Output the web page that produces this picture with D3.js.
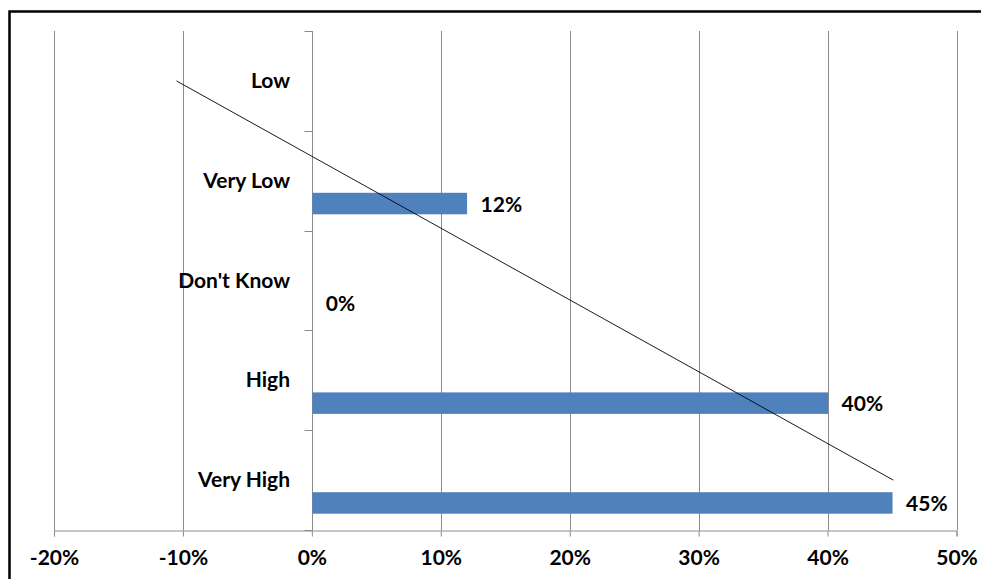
<!DOCTYPE html>
<html>
<head>
<meta charset="utf-8">
<script src="https://cdn.jsdelivr.net/npm/d3@7"></script>
<style>
  html, body { margin: 0; padding: 0; background: #fff; }
  svg { display: block; }
  text { font-family: Lato, "Open Sans", sans-serif; font-weight: bold; fill: #000; }
</style>
</head>
<body>
<svg id="chart" width="981" height="579"></svg>
<script>
// Data (top to bottom as displayed)
const categories = ["Low", "Very Low", "Don't Know", "High", "Very High"];
const values = [null, 0.12, 0.0, 0.40, 0.45];
const xTicks = [-0.2, -0.1, 0, 0.1, 0.2, 0.3, 0.4, 0.5];

const W = 981, H = 579;
const FS = 21;
const svg = d3.select("#chart");
const pct = d => Math.round(d * 100) + "%";

// frame
svg.append("path")
  .attr("d", `M9.5,${H + 5} L9.5,11.5 L${W + 5},11.5`)
  .attr("fill", "none").attr("stroke", "#000").attr("stroke-width", 2.5);

const x = d3.scaleLinear().domain([-0.2, 0.5]).range([54, 956.5]);
const y = d3.scaleBand().domain(categories).range([31, 530]).paddingInner(0).paddingOuter(0);
const gridColor = "#8c8c8c";

// vertical gridlines
svg.append("g").selectAll("line").data(xTicks).join("line")
  .attr("x1", d => Math.round(x(d)) + 0.5).attr("x2", d => Math.round(x(d)) + 0.5)
  .attr("y1", 31).attr("y2", 530)
  .attr("stroke", gridColor).attr("stroke-width", 1);

// bottom axis
const xAxis = d3.axisBottom(x).tickValues(xTicks).tickSize(6).tickPadding(14)
  .tickFormat(pct);
const gx = svg.append("g").attr("transform", "translate(0,530.5)").call(xAxis);
gx.select(".domain").attr("stroke", gridColor);
gx.selectAll(".tick line").attr("stroke", gridColor);
gx.selectAll(".tick text").attr("font-size", FS).attr("font-family", "Lato, sans-serif")
  .attr("font-weight", "bold").attr("fill", "#000");

// category axis at x=0 with ticks at band boundaries
const x0 = Math.round(x(0)) + 0.5;
svg.append("line").attr("x1", x0).attr("x2", x0).attr("y1", 31).attr("y2", 530)
  .attr("stroke", gridColor);
const boundaries = categories.map(c => y(c)).concat([y.range()[1]]);
svg.append("g").selectAll("line").data(boundaries).join("line")
  .attr("x1", x0 - 8).attr("x2", x0)
  .attr("y1", d => Math.round(d) + 0.5).attr("y2", d => Math.round(d) + 0.5)
  .attr("stroke", gridColor);

// category labels
svg.append("g").selectAll("text").data(categories).join("text")
  .attr("x", 290).attr("y", d => y(d) + 57)
  .attr("text-anchor", "end").attr("font-size", FS)
  .text(d => d);

// bars
const data = categories.map((c, i) => ({ c, v: values[i] }));
const barOff = 62, barH = 21.5;
svg.append("g").selectAll("rect").data(data.filter(d => d.v !== null)).join("rect")
  .attr("x", x(0) + 0.5).attr("y", d => y(d.c) + barOff)
  .attr("width", d => Math.max(0, x(d.v) - x(0)))
  .attr("height", barH)
  .attr("fill", "#4f81bd");

// data labels
svg.append("g").selectAll("text").data(data.filter(d => d.v !== null)).join("text")
  .attr("x", d => x(d.v) + 14)
  .attr("y", d => y(d.c) + barOff + barH / 2 + 8)
  .attr("font-size", FS)
  .text(d => pct(d.v));

// linear trendline (category index 1 = bottom category, as in a bar chart)
const n = categories.length;
const pts = data.map((d, i) => ({ idx: n - i, v: d.v, c: d.c })).filter(d => d.v !== null);
const mx = d3.mean(pts, d => d.idx), my = d3.mean(pts, d => d.v);
const slope = d3.sum(pts, d => (d.idx - mx) * (d.v - my)) / d3.sum(pts, d => (d.idx - mx) ** 2);
const icpt = my - slope * mx;
const trend = d3.range(1, n + 1).map(idx => ({ idx, v: icpt + slope * idx, c: categories[n - idx] }));
const ends = [trend[0], trend[trend.length - 1]];
svg.append("line")
  .attr("x1", x(ends[0].v)).attr("y1", y(ends[0].c) + y.bandwidth() / 2)
  .attr("x2", x(ends[1].v)).attr("y2", y(ends[1].c) + y.bandwidth() / 2)
  .attr("stroke", "#000").attr("stroke-width", 0.9);
</script>
</body>
</html>
